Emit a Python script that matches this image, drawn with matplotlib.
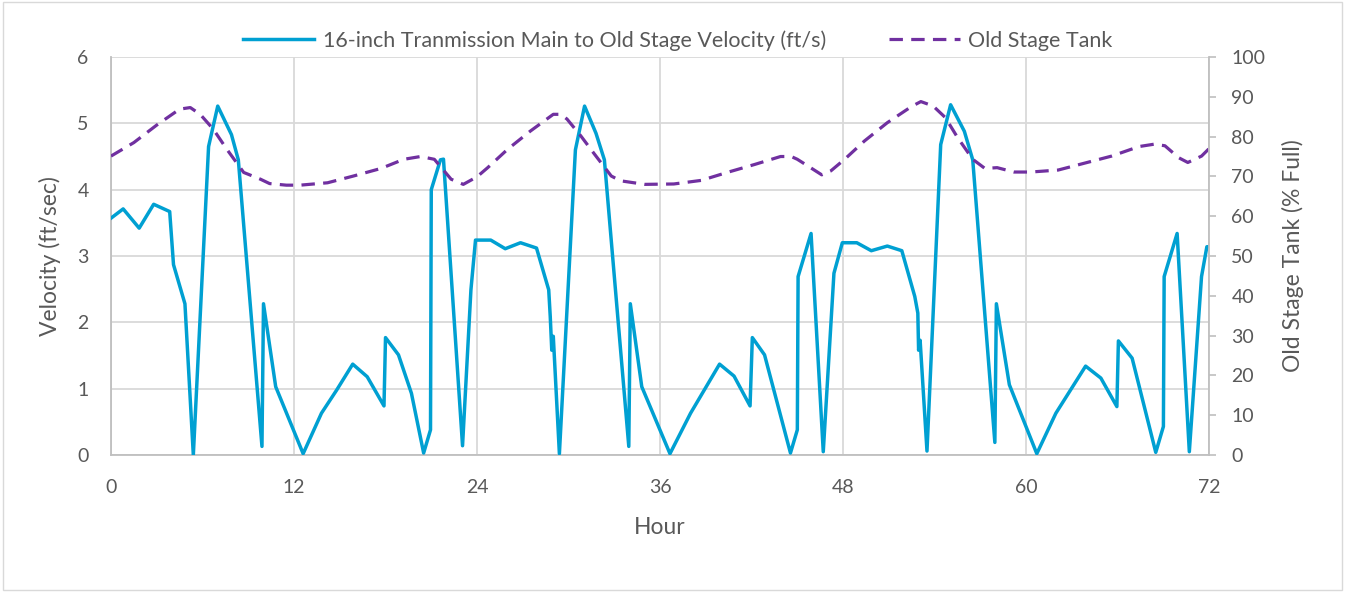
import matplotlib
matplotlib.use('Agg')
import matplotlib.pyplot as plt
from matplotlib.patches import Rectangle

# velocity in the 16-inch main (hour, ft/s)
vel_hours = [0, 0.8, 1.85, 2.8, 3.85, 4.1, 4.85, 5.4, 6.4, 7.0, 7.9, 8.35, 9.9, 10.0, 10.8,
             12.6, 13.8, 14.8, 15.85, 16.8, 17.9, 18.0, 18.85, 19.7, 20.5, 20.95, 21.0, 21.6, 21.8,
             23.05, 23.6, 23.9, 24.9, 25.85, 26.85, 27.9, 28.7, 28.8, 28.9, 29.0, 29.4, 30.45, 31.05,
             31.8, 32.35, 33.95, 34.05, 34.8, 36.65, 38.0, 39.9, 40.85, 41.9, 42.05, 42.85, 44.55,
             45.0, 45.05, 45.9, 46.7, 47.4, 47.95, 48.9, 49.85, 50.9, 51.85, 52.7, 52.9, 52.95, 53.05,
             53.5, 54.4, 55.05, 55.95, 56.5, 57.95, 58.05, 58.9, 60.7, 61.95, 63.9, 64.9, 65.95, 66.05,
             66.95, 68.5, 69.0, 69.05, 69.9, 70.7, 71.5, 71.85, 72.0]
velocity = [3.57, 3.71, 3.42, 3.78, 3.67, 2.87, 2.28, 0.0, 4.65, 5.26, 4.83, 4.45, 0.13, 2.28, 1.03,
            0.02, 0.63, 0.98, 1.37, 1.18, 0.74, 1.77, 1.51, 0.93, 0.03, 0.38, 4.0, 4.45, 4.46,
            0.14, 2.49, 3.24, 3.24, 3.11, 3.20, 3.12, 2.49, 2.09, 1.58, 1.79, 0.02, 4.6, 5.26,
            4.85, 4.45, 0.13, 2.28, 1.03, 0.02, 0.63, 1.37, 1.19, 0.74, 1.77, 1.51, 0.03,
            0.38, 2.69, 3.34, 0.05, 2.74, 3.2, 3.2, 3.08, 3.15, 3.08, 2.39, 2.14, 1.58, 1.73,
            0.06, 4.68, 5.28, 4.88, 4.45, 0.19, 2.28, 1.06, 0.02, 0.63, 1.34, 1.16, 0.73, 1.72,
            1.46, 0.04, 0.43, 2.69, 3.34, 0.05, 2.69, 3.14, 3.14]

# old stage tank level (hour, % full)
tank_hours = [0, 1.5, 3.0, 4.5, 5.2, 5.85, 6.7, 7.6, 8.7, 9.8, 10.4, 11.5, 12.4, 14.2, 15.9, 17.7,
              19.2, 20.3, 21.2, 22.3, 23.1, 24.0, 24.7, 26.0, 27.5, 29.0, 29.5, 29.9, 30.8, 31.7,
              32.8, 33.4, 35.0, 36.9, 38.7, 40.4, 42.2, 43.9, 44.6, 45.0, 45.7, 46.6, 47.2, 48.1,
              49.4, 50.9, 52.5, 53.1, 53.9, 54.7, 55.5, 56.5, 57.3, 58.1, 59.2, 60.3, 62.1, 63.8,
              65.6, 67.4, 68.4, 69.1, 70.0, 70.6, 71.5, 72.0]
tank = [75.1, 78.5, 82.9, 86.9, 87.3, 85.6, 81.9, 76.8, 71.0, 69.3, 68.2, 67.8, 67.8, 68.4, 70.1, 72.0,
        74.3, 75.0, 74.3, 69.3, 68.0, 69.9, 72.2, 76.8, 81.4, 85.6, 85.6, 84.4, 80.2, 75.6,
        70.1, 68.9, 68.0, 68.1, 69.0, 71.0, 73.0, 75.0, 75.0, 74.3, 72.6, 70.4, 71.4, 74.3,
        78.9, 83.5, 87.6, 88.8, 87.7, 84.8, 79.8, 74.3, 72.0, 72.2, 71.1, 71.1, 71.6, 73.3,
        75.1, 77.5, 78.1, 77.7, 74.7, 73.5, 75.1, 77.0]

x_ticks = [0, 12, 24, 36, 48, 60, 72]

plt.rcParams['font.family'] = ['Lato', 'DejaVu Sans']
txt = '#595959'
grid = '#D9D9D9'

fig = plt.figure(figsize=(13.45, 5.92), dpi=100)
ax = fig.add_axes([0.0825, 0.2314, 0.8165, 0.6723])
ax2 = ax.twinx()

l1, = ax.plot(vel_hours, velocity, color='#00A0D2', lw=2.5, zorder=3,
              label='16-inch Tranmission Main to Old Stage Velocity (ft/s)')
l2, = ax2.plot(tank_hours, tank, color='#7030A0', lw=2.3, dashes=(4.2, 2.6),
               label='Old Stage Tank')

ax.set_xlim(0, 72)
ax.set_ylim(0, 6)
ax2.set_ylim(0, 100)
ax.set_xticks(x_ticks)
ax.set_yticks(range(0, 7))
ax2.set_yticks(range(0, 101, 10))

ax.grid(True, color=grid, lw=1.3)
ax.set_axisbelow(True)
ax.tick_params(axis='x', length=0, labelsize=14, colors=txt, pad=17)
ax.tick_params(axis='y', length=0, labelsize=14, colors=txt, pad=16)
ax2.tick_params(axis='y', length=5, width=1.2, color='#BFBFBF', labelsize=14, labelcolor=txt, pad=11)

for a in (ax, ax2):
    a.spines['top'].set_visible(False)
    for s in ('left', 'bottom', 'right'):
        a.spines[s].set_color('#BFBFBF')
        a.spines[s].set_linewidth(1.3)
ax.spines['right'].set_visible(False)
ax2.spines['left'].set_visible(False)
ax2.spines['bottom'].set_visible(False)

ax.set_xlabel('Hour', fontsize=16.5, color=txt, labelpad=15.5)
ax.set_ylabel('Velocity (ft/sec)', fontsize=16.5, color=txt)
ax.yaxis.set_label_coords(-0.0456, 0.5)
ax2.set_ylabel('Old Stage Tank (% Full)', fontsize=16.5, color=txt, labelpad=12)

fig.legend(handles=[l1, l2], loc='center', bbox_to_anchor=(0.504, 0.932), ncol=2,
           frameon=False, fontsize=15.5, labelcolor=txt, handlelength=3.3,
           columnspacing=2.9, handletextpad=0.4)

fig.patches.append(Rectangle((0.002, 0.003), 0.996, 0.994, transform=fig.transFigure,
                             fill=False, edgecolor='#D9D9D9', lw=1))

fig.savefig('out.png', dpi=100)
